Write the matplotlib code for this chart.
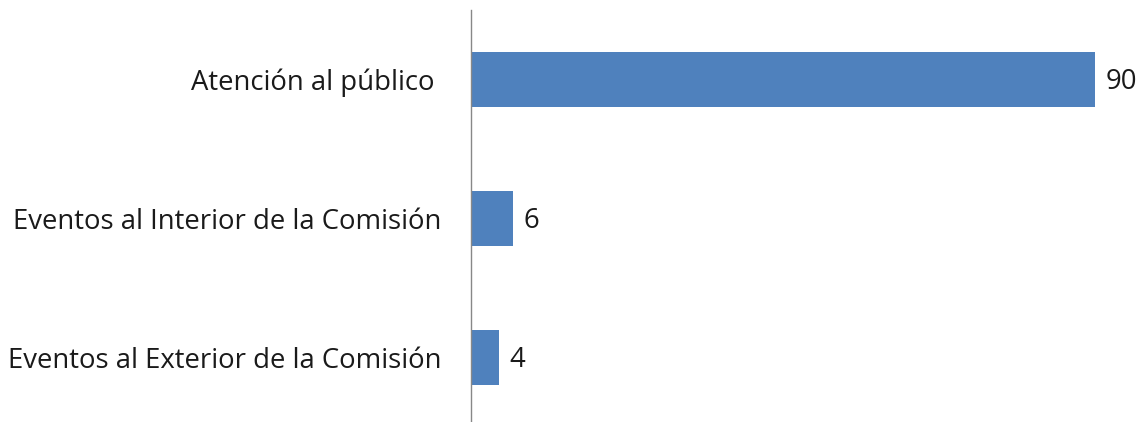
import matplotlib
matplotlib.use("Agg")
import matplotlib.pyplot as plt

categories = ["Eventos al Exterior de la Comisión", "Eventos al Interior de la Comisión", "Atención al público "]
values = [4, 6, 90]
value_labels = ["4", "6", "90"]

plt.rcParams['font.family'] = ['Open Sans', 'DejaVu Sans']

fig = plt.figure(figsize=(11.42, 4.22), dpi=100)
ax = fig.add_axes([471/1142, (422-427)/422, (1095-471)/1142, 417/422])
ax.set_facecolor('none')
fig.patch.set_facecolor('white')

bars = ax.barh(range(len(categories)), values, height=0.4, color='#4F81BD')
ax.set_xlim(0, 90)
ax.set_ylim(-0.5, 2.5)
ax.set_yticks(range(len(categories)))
ax.set_yticklabels(categories, fontsize=19.8, color='#1a1a1a')
ax.tick_params(axis='y', length=0, pad=21.5)
ax.set_xticks([])
for s in ['top', 'right', 'bottom']:
    ax.spines[s].set_visible(False)
ax.spines['left'].set_color('#888888')
ax.spines['left'].set_linewidth(1.0)

for b, lab in zip(bars, value_labels):
    ax.annotate(lab, (b.get_width(), b.get_y() + b.get_height()/2),
                xytext=(8, -2), textcoords='offset points',
                va='center', ha='left', fontsize=19.8, color='#1a1a1a',
                annotation_clip=False)

fig.savefig("out.png", dpi=100)
